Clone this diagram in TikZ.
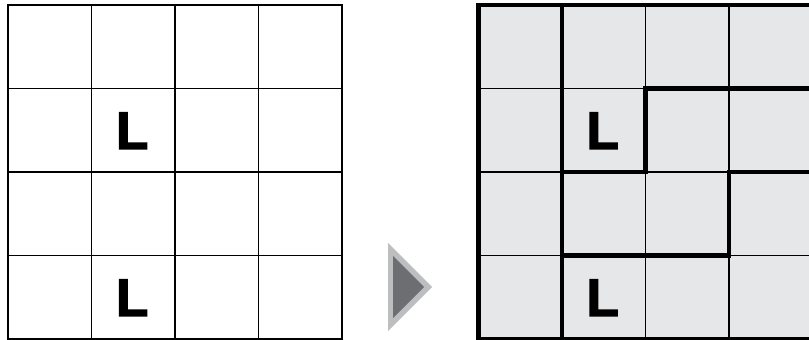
\documentclass[tikz,border=0pt]{standalone}
\usepackage{fontspec}
\setmainfont{Liberation Sans}
\newfontfamily\heavyfont[FakeBold=2.5]{Liberation Sans Bold}
\definecolor{cellgray}{HTML}{E6E7E8}
\definecolor{arrowlight}{HTML}{BCBEC0}
\definecolor{arrowdark}{HTML}{6D6E71}
\begin{document}
\begin{tikzpicture}[x=1pt,y=-1pt,
  thinline/.style={line width=1.4pt,black},
  frameline/.style={line width=2.6pt,black},
  thickline/.style={line width=4.4pt,black,line join=miter},
  lett/.style={inner sep=0pt,font=\heavyfont\fontsize{53}{53}\selectfont}]
\useasboundingbox (0,0) rectangle (809,340);
\clip (0,0) rectangle (809,340);
\def\cs{83.5}
% left grid
\foreach \i in {1,2,3}{
  \draw[thinline] (8+\i*\cs,5) -- (8+\i*\cs,339);
  \draw[thinline] (8,5+\i*\cs) -- (342,5+\i*\cs);
}
\draw[frameline] (8,5) rectangle (342,339);
\node[lett] (la) at (132.2,130.75) {L};
\node[lett] (lb) at (132.2,297.75) {L};
% arrow
\fill[arrowlight] (388,243) -- (432,287) -- (388,331) -- cycle;
\fill[arrowdark] (393,256) -- (424,287) -- (393,318) -- cycle;
% right grid
\fill[cellgray] (478.5,5) rectangle (812.5,339);
\foreach \i in {2,3}{
  \draw[thinline] (478.5+\i*\cs,5) -- (478.5+\i*\cs,339);
}
\foreach \i in {1,2,3}{
  \draw[thinline] (478.5,5+\i*\cs) -- (812.5,5+\i*\cs);
}
\draw[thickline] (478.5,5) rectangle (812.5,339);
\draw[thickline] (562,5) -- (562,339);
\draw[thickline] (812.5,88.5) -- (645.5,88.5) -- (645.5,172) -- (562,172);
\draw[thickline] (812.5,172) -- (729,172) -- (729,255.5) -- (562,255.5);
\node[lett] (lc) at (602.7,130.75) {L};
\node[lett] (ld) at (602.7,297.75) {L};
\end{tikzpicture}
\end{document}
